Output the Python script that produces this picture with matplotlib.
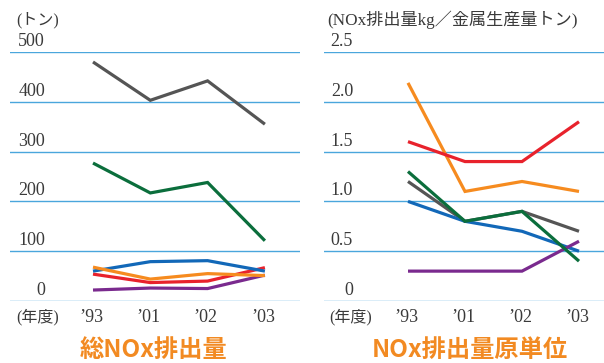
import matplotlib
matplotlib.use("Agg")
import matplotlib.pyplot as plt

plt.rcParams['font.family'] = ['Liberation Serif', 'Noto Sans CJK JP', 'DejaVu Sans']

years = ["’93", "’01", "’02", "’03"]

# Total NOx emissions (tonnes)
total_gray = [480, 403, 442, 355]
total_green = [277, 217, 238, 121]
total_blue = [60, 79, 81, 60]
total_orange = [68, 44, 55, 51]
total_red = [54, 37, 40, 67]
total_purple = [22, 26, 25, 52]
total_ticks = [0, 100, 200, 300, 400, 500]
total_tick_labels = ["0", "100", "200", "300", "400", "500"]

# NOx emission intensity (kg NOx per tonne of metal produced)
unit_orange = [2.19, 1.10, 1.20, 1.10]
unit_red = [1.60, 1.40, 1.40, 1.80]
unit_gray = [1.20, 0.80, 0.90, 0.70]
unit_blue = [1.00, 0.80, 0.70, 0.50]
unit_green = [1.30, 0.80, 0.90, 0.40]
unit_purple = [0.30, 0.30, 0.30, 0.60]
unit_ticks = [0, 0.5, 1.0, 1.5, 2.0, 2.5]
unit_tick_labels = ["0", "0.5", "1.0", "1.5", "2.0", "2.5"]

C_GRAY = "#555555"
C_GREEN = "#0b6e3c"
C_BLUE = "#1268b8"
C_ORANGE = "#f68b1f"
C_RED = "#e8222c"
C_PURPLE = "#7a2a8e"
C_GRID = "#4aa6dc"
C_TEXT = "#3a3a3a"
C_TITLE = "#f28a22"

SERIF_JP = ['Liberation Serif', 'Noto Sans CJK JP', 'DejaVu Sans']
SANS_JP = ['Noto Sans CJK JP', 'DejaVu Sans']

W, H = 604, 363
fig = plt.figure(figsize=(W / 100, H / 100), dpi=100)


def make_axes(left_px, right_px, first_px, step_px):
    ax = fig.add_axes([left_px / W, (H - 301) / H, (right_px - left_px) / W, 249 / H])
    ax.set_xlim((left_px - first_px) / step_px, (right_px - first_px) / step_px)
    ax.axis("off")
    return ax


def draw_panel(ax, series, ticks, tick_labels, ymax, label_x, unit_text, unit_x,
               unit_size, title, title_x, nendo_x):
    ax.set_ylim(0, ymax)
    for t, lab in zip(ticks, tick_labels):
        ax.axhline(t, color=C_GRID, lw=1.0, zorder=1)
        ax.annotate(lab, xy=(label_x, t), xycoords=ax.get_yaxis_transform(),
                    xytext=(0, 1.5), textcoords="offset points",
                    ha="right", va="bottom", fontsize=13, color=C_TEXT)
    x = list(range(len(years)))
    for vals, col in series:
        ax.plot(x, vals, color=col, lw=2.3, solid_joinstyle="miter",
                solid_capstyle="butt", zorder=3, clip_on=False)
    for i, yl in enumerate(years):
        ax.annotate(yl, xy=(i, 0), xycoords=("data", "data"),
                    xytext=(-2, -17), textcoords="offset pixels",
                    ha="center", va="center", fontsize=13, color=C_TEXT)
    fig.text(nendo_x / W, 1 - 317 / H, "(年度)", ha="center", va="center",
             fontsize=11.5, color=C_TEXT, family=SERIF_JP)
    fig.text(unit_x / W, 1 - 20 / H, unit_text, ha="left", va="center",
             fontsize=unit_size, color=C_TEXT, family=SERIF_JP)
    fig.text(title_x / W, 1 - 350 / H, title, ha="center", va="center",
             fontsize=17.5, fontweight="bold", color=C_TITLE, family=SANS_JP)


ax1 = make_axes(10, 300, 93, 57.3)
draw_panel(ax1,
           [(total_gray, C_GRAY), (total_green, C_GREEN), (total_purple, C_PURPLE),
            (total_red, C_RED), (total_blue, C_BLUE), (total_orange, C_ORANGE)],
           total_ticks, total_tick_labels, 500, 0.121,
           "(トン)", 16, 11.5, "総NOx排出量", 154, 38)

ax2 = make_axes(324, 604, 408, 57.0)
draw_panel(ax2,
           [(unit_orange, C_ORANGE), (unit_red, C_RED), (unit_gray, C_GRAY),
            (unit_blue, C_BLUE), (unit_purple, C_PURPLE), (unit_green, C_GREEN)],
           unit_ticks, unit_tick_labels, 2.5, 0.104,
           "(NOx排出量kg／金属生産量トン)", 327, 12.3, "NOx排出量原単位", 470, 351)

fig.savefig("out.png", dpi=100)
